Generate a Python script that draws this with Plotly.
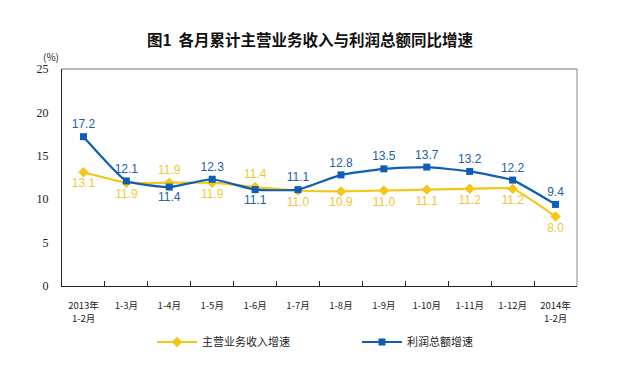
import plotly.graph_objects as go

categories = ["2013年<br>1-2月", "1-3月", "1-4月", "1-5月", "1-6月", "1-7月", "1-8月",
              "1-9月", "1-10月", "1-11月", "1-12月", "2014年<br>1-2月"]
revenue = [13.1, 11.9, 11.9, 11.9, 11.4, 11.0, 10.9, 11.0, 11.1, 11.2, 11.2, 8.0]
profit = [17.2, 12.1, 11.4, 12.3, 11.1, 11.1, 12.8, 13.5, 13.7, 13.2, 12.2, 9.4]
revenue_pos = ["bottom center", "bottom center", "top center", "bottom center", "top center",
               "bottom center", "bottom center", "bottom center", "bottom center",
               "bottom center", "bottom center", "bottom center"]
profit_pos = ["top center", "top center", "bottom center", "top center", "bottom center",
              "top center", "top center", "top center", "top center", "top center",
              "top center", "top center"]

YELLOW = "#F5C518"
BLUE = "#0F5DB5"

fig = go.Figure()
fig.add_trace(go.Scatter(
    x=categories, y=revenue, name="主营业务收入增速", mode="lines+markers+text",
    line=dict(color=YELLOW, width=2.2, shape="spline", smoothing=0.4),
    marker=dict(symbol="diamond", size=8, color=YELLOW),
    text=[f"{v:.1f}" for v in revenue], textposition=revenue_pos,
    textfont=dict(color="#F3C63A", size=12, family="Liberation Sans"),
    cliponaxis=False,
))
fig.add_trace(go.Scatter(
    x=categories, y=profit, name="利润总额增速", mode="lines+markers+text",
    line=dict(color=BLUE, width=2.2, shape="spline", smoothing=0.4),
    marker=dict(symbol="square", size=7, color=BLUE),
    text=[f"{v:.1f}" for v in profit], textposition=profit_pos,
    textfont=dict(color="#2160A8", size=12, family="Liberation Sans"),
    cliponaxis=False,
))

# first line of each category label as tick text, second line (if any) as annotation
tick_first = [c.split("<br>")[0] for c in categories]
second_lines = [dict(text=c.split("<br>")[1], x=c, xref="x", yref="paper", y=0,
                     yanchor="middle", yshift=-32, showarrow=False,
                     font=dict(size=9.5, family="Noto Sans CJK SC", color="#222"))
                for c in categories if "<br>" in c]

fig.update_layout(
    width=636, height=371,
    margin=dict(l=62, r=59, t=69, b=85, autoexpand=False),
    paper_bgcolor="white", plot_bgcolor="white",
    title=dict(text="图1  各月累计主营业务收入与利润总额同比增速", x=310 / 636, xanchor="center",
               xref="container", yref="container", y=1 - 41 / 371, yanchor="middle",
               font=dict(size=15.5, family="Noto Sans CJK SC", color="#111", weight=600)),
    font=dict(family="Noto Sans CJK SC", color="#222"),
    showlegend=True,
    legend=dict(orientation="h", xref="container", yref="container",
                x=152 / 636, xanchor="left", y=1 - 342 / 371, yanchor="middle",
                font=dict(size=11, family="Noto Sans CJK SC", color="#222"),
                itemwidth=40, entrywidth=150, traceorder="normal"),
    xaxis=dict(type="category", showgrid=False, showline=True, linecolor="#222", linewidth=1,
               ticks="inside", tickson="boundaries", ticklen=5, tickcolor="#222",
               tickmode="array", tickvals=categories, ticktext=tick_first,
               tickfont=dict(size=9.5, family="Noto Sans CJK SC", color="#222"),
               ticklabelstandoff=11,
               range=[-0.5, 11.5], automargin=False),
    yaxis=dict(range=[0, 25], dtick=5, showgrid=False, showline=True, linecolor="#222",
               linewidth=1, ticks="", zeroline=False, automargin=False,
               tickfont=dict(size=12, family="Liberation Serif", color="#222"),
               ticklabelstandoff=10),
    shapes=[
        dict(type="line", xref="paper", yref="paper", x0=0, x1=1, y0=1, y1=1,
             line=dict(color="#777", width=1)),
        dict(type="line", xref="paper", yref="paper", x0=1, x1=1, y0=0, y1=1,
             line=dict(color="#888", width=1)),
    ],
    annotations=[
        dict(text="(%)", xref="paper", yref="paper", x=-0.04, y=1.0, xanchor="left",
             yanchor="bottom", yshift=3, showarrow=False,
             font=dict(size=10, family="Noto Sans CJK SC", color="#222")),
    ] + second_lines,
)

fig.write_html("out.html", config={"displayModeBar": False},
               post_script="document.body.style.margin='0';")
